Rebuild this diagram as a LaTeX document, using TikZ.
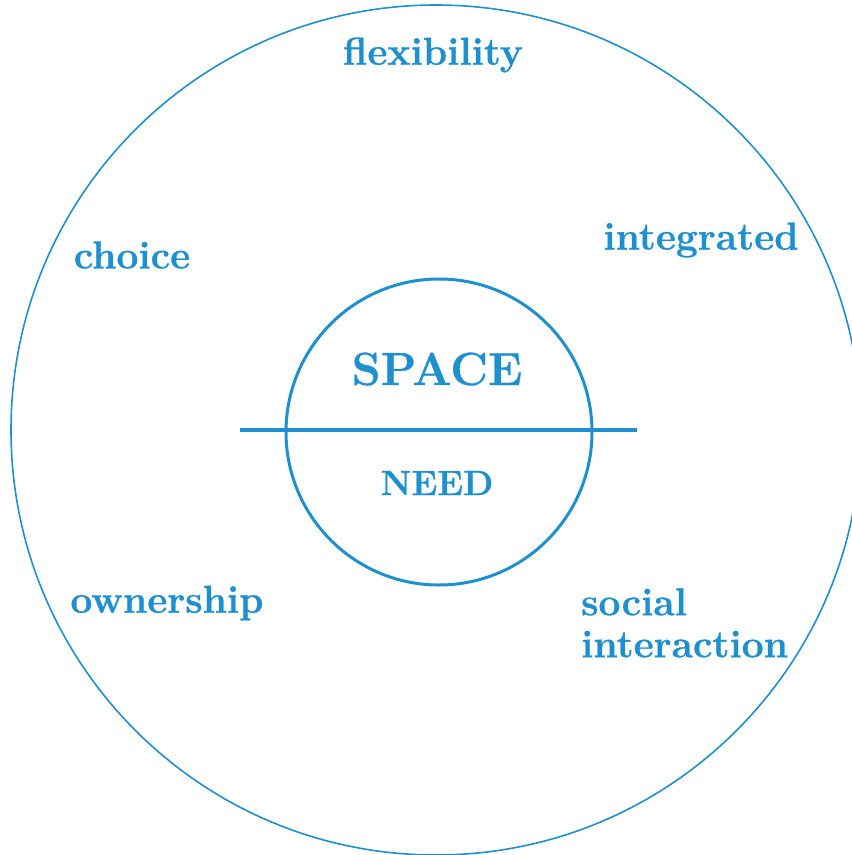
\documentclass[tikz,border=0pt]{standalone}
\usepackage{fontspec}
\newfontfamily\heavy{Latin Modern Roman}[BoldFeatures={FakeBold=0.7}]
\definecolor{cblue}{RGB}{30,144,208}
\begin{document}
\begin{tikzpicture}[x=1pt,y=-1pt,
  lbl/.style={text=cblue,font=\heavy\bfseries\fontsize{39}{42}\selectfont,inner sep=0pt},
  ]
\useasboundingbox (0,0) rectangle (852,855);
\begin{scope}
\clip (0,0) rectangle (852,855);
\draw[cblue,line width=1.6pt] (436,430) circle[radius=425];
\end{scope}
\node[draw=cblue,line width=3pt,circle,minimum size=306pt,inner sep=0pt] (inner) at (439,432) {};
\coordinate (la) at (240,430);
\coordinate (lb) at (637,430);
\draw[cblue,line width=4pt] (la) -- (lb);
\node[lbl,font=\heavy\bfseries\fontsize{46.5}{56}\selectfont] (space) at (437,369) {SPACE};
\node[lbl,font=\heavy\bfseries\fontsize{35}{40}\selectfont] (need) at (437,483) {NEED};
\node[lbl] (flex) at (433,55) {flexibility};
\node[lbl] (choice) at (132,255) {choice};
\node[lbl] (integ) at (701,240) {integrated};
\node[lbl] (own) at (167,603) {ownership};
\node[lbl,align=left,anchor=north west] (social) at (581,588) {social\\interaction};
\end{tikzpicture}
\end{document}
